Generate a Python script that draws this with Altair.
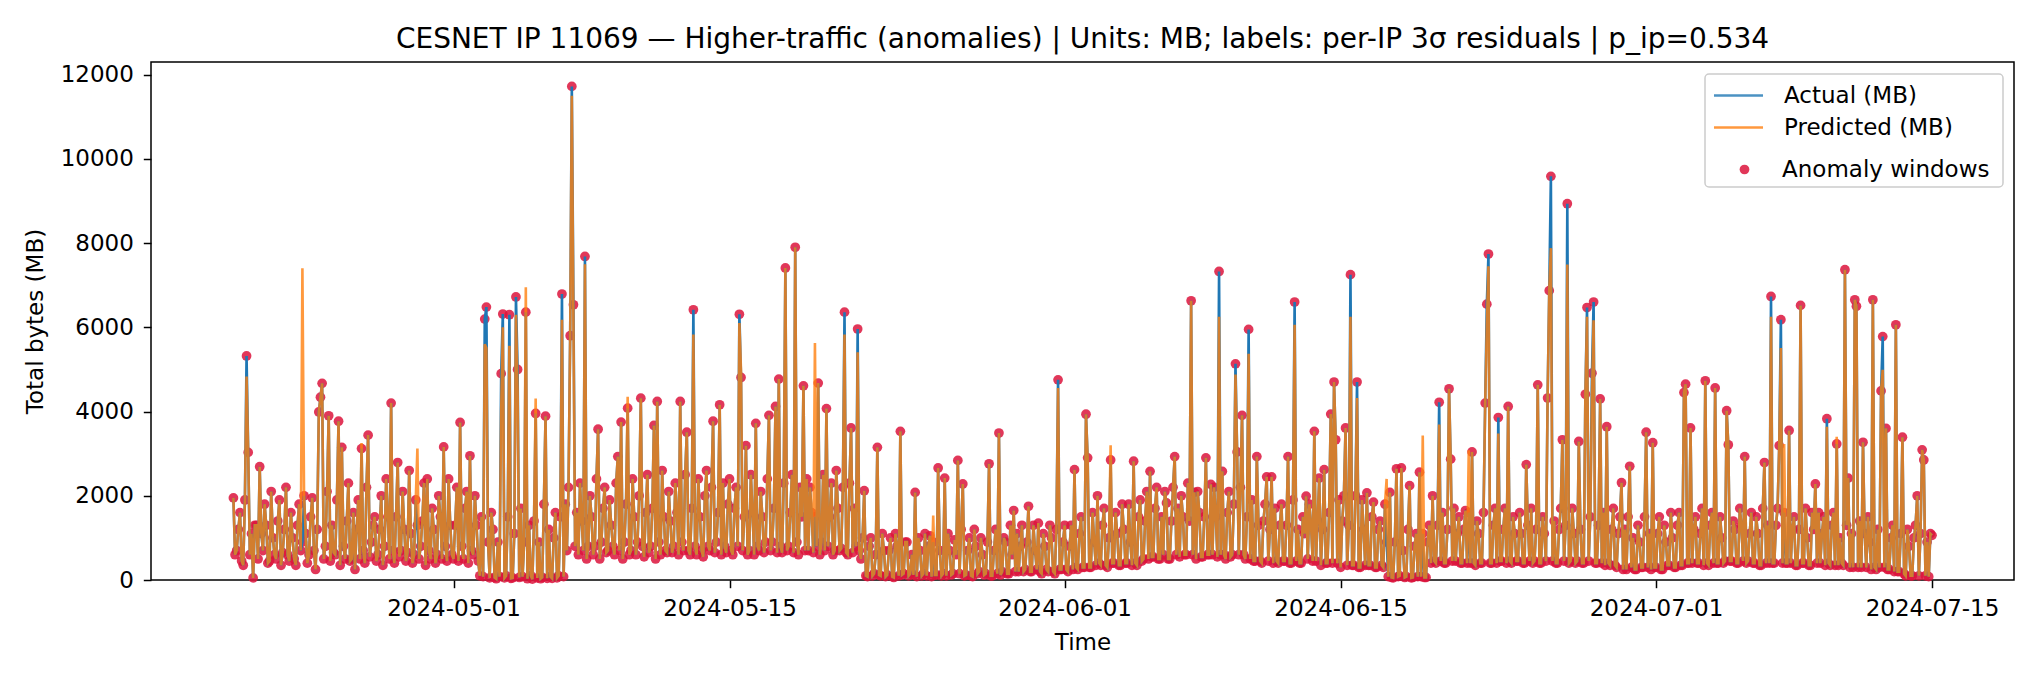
import altair as alt
import pandas as pd

TITLE = ("CESNET IP 11069 \u2014 Higher-traffic (anomalies) | Units: MB; "
         "labels: per-IP 3\u03c3 residuals | p_ip=0.534")
FONT = "DejaVu Sans"

# 2-hour windows (MB); one row per day = 00,02,...,22 h
apr19_tail = [1950, 600]                      # Apr 19 20h, 22h
actual_apr = [                                # Apr 20 .. Apr 30
    [700, 1200, 1600, 450, 350, 1900, 5320, 3030, 600, 1100, 50, 1300],
    [1300, 500, 2690, 1100, 700, 1800, 1300, 400, 450, 2100, 1000, 600],
    [500, 1400, 1900, 350, 650, 1200, 2200, 600, 450, 1600, 1000, 500],
    [350, 1300, 1800, 700, 900, 2000, 1100, 400, 600, 1500, 1950, 700],
    [250, 1200, 3990, 4340, 4670, 500, 800, 2100, 3900, 450, 1300, 650],
    [600, 1900, 3770, 350, 3150, 800, 500, 1400, 2300, 450, 500, 1600],
    [250, 1200, 1900, 500, 3120, 700, 400, 2200, 3440, 550, 900, 1300],
    [1500, 450, 600, 1200, 2000, 350, 800, 2400, 1500, 500, 4200, 700],
    [400, 1500, 2790, 550, 700, 2100, 1200, 450, 650, 2600, 1100, 400],
    [600, 1900, 1300, 500, 800, 1400, 2300, 350, 2400, 700, 500, 1700],
    [1200, 400, 600, 2000, 1500, 500, 3160, 800, 450, 2400, 1300, 600],
]
actual_may = [                                # May 1 .. May 31
    [500, 1300, 2200, 450, 3740, 800, 500, 1700, 2100, 400, 2950, 700],
    [600, 2000, 1300, 450, 100, 1500, 80, 6195, 6480, 900, 50, 1600],
    [1200, 60, 30, 900, 80, 4900, 6315, 50, 100, 1500, 6300, 40],
    [50, 1100, 6720, 5000, 60, 1700, 80, 900, 6360, 30, 1300, 100],
    [20, 1400, 3955, 50, 900, 30, 60, 1800, 3890, 40, 1200, 80],
    [40, 1000, 1600, 50, 100, 1500, 6790, 80, 1800, 700, 2200, 5800],
    [11720, 6535, 800, 1600, 600, 2300, 1400, 700, 7683, 500, 800, 2000],
    [1500, 600, 800, 2400, 3580, 500, 900, 1700, 2200, 650, 700, 1900],
    [1300, 800, 600, 2300, 2930, 700, 3750, 500, 900, 1800, 4080, 600],
    [700, 2400, 1500, 600, 900, 2000, 4318, 800, 550, 1600, 2500, 650],
    [800, 1700, 3670, 500, 4240, 900, 600, 2600, 1500, 700, 650, 2100],
    [1400, 650, 800, 2300, 1600, 600, 4240, 900, 700, 2500, 3510, 700],
    [600, 1700, 6416, 800, 600, 2400, 1500, 700, 550, 2000, 2600, 800],
    [700, 2200, 3770, 650, 900, 1600, 4160, 600, 2300, 800, 650, 1800],
    [2400, 700, 600, 1700, 2200, 800, 6310, 4810, 700, 1500, 3190, 600],
    [700, 2500, 1600, 600, 3720, 800, 700, 2100, 1500, 650, 900, 2400],
    [3910, 700, 900, 1700, 4120, 650, 4770, 800, 650, 2300, 7410, 700],
    [800, 1600, 2500, 650, 7900, 900, 600, 2200, 1500, 4610, 700, 2400],
    [700, 2200, 1600, 650, 1500, 800, 4675, 600, 900, 2500, 700, 4070],
    [800, 1500, 2300, 600, 700, 2600, 1700, 700, 750, 2200, 6360, 650],
    [600, 2300, 3610, 650, 1700, 800, 5960, 700, 500, 1000, 2120, 100],
    [80, 800, 1000, 100, 150, 600, 3150, 120, 100, 1100, 700, 80],
    [120, 700, 1000, 80, 60, 1100, 800, 100, 3530, 120, 150, 900],
    [900, 100, 150, 600, 120, 2080, 80, 1000, 700, 100, 150, 1100],
    [100, 800, 1050, 80, 900, 120, 120, 2660, 700, 100, 150, 2420],
    [100, 1100, 700, 120, 150, 950, 600, 2840, 150, 1200, 2280, 100],
    [120, 700, 1000, 100, 80, 1200, 800, 150, 200, 1000, 600, 120],
    [150, 900, 2760, 100, 100, 700, 1200, 150, 3490, 120, 200, 1000],
    [900, 150, 150, 1300, 600, 1650, 200, 1100, 200, 800, 1300, 200],
    [250, 900, 1750, 200, 200, 1300, 700, 250, 1350, 200, 150, 1100],
    [800, 250, 200, 1300, 1000, 200, 150, 1200, 4753, 250, 250, 900],
]
actual_jun = [                                # Jun 1 .. Jun 30
    [1300, 250, 200, 800, 1300, 250, 2620, 300, 250, 1100, 1500, 300],
    [300, 3937, 2900, 300, 300, 1600, 900, 350, 2000, 400, 350, 1300],
    [1700, 350, 300, 1000, 2850, 400, 400, 1600, 1100, 350, 350, 1800],
    [1200, 400, 400, 1800, 900, 350, 2820, 400, 350, 1500, 1900, 450],
    [500, 1400, 2100, 500, 2580, 550, 550, 1700, 2200, 500, 500, 1500],
    [600, 2100, 1830, 500, 500, 1400, 2200, 2930, 600, 1700, 550, 2000],
    [1500, 600, 600, 2300, 1400, 6630, 600, 2080, 500, 2100, 1600, 550],
    [550, 1500, 2900, 600, 600, 2270, 600, 2200, 1500, 550, 7327, 600],
    [2580, 600, 500, 1600, 2100, 550, 600, 1800, 5133, 3040, 600, 2200],
    [3910, 600, 500, 1500, 5950, 500, 1900, 450, 450, 2930, 1300, 450],
    [400, 1400, 1800, 2450, 450, 1200, 2450, 400, 1700, 450, 400, 1300],
    [1800, 450, 450, 1300, 2930, 400, 400, 1900, 6600, 450, 1200, 400],
    [400, 1500, 1100, 1990, 500, 1800, 1300, 450, 3530, 450, 1400, 2420],
    [350, 1200, 2620, 400, 400, 1600, 3940, 400, 4700, 3330, 400, 1900],
    [300, 1400, 2000, 3610, 350, 1300, 7250, 350, 350, 2000, 4700, 300],
    [300, 1900, 1200, 350, 2070, 350, 350, 1500, 1850, 300, 300, 1200],
    [1400, 350, 300, 1800, 900, 80, 2080, 60, 50, 900, 2640, 80],
    [100, 2660, 700, 60, 80, 1200, 2240, 50, 60, 800, 1100, 80],
    [2560, 80, 1100, 60, 60, 900, 1300, 400, 2000, 450, 400, 1300],
    [4220, 450, 1600, 400, 400, 1200, 4540, 2870, 450, 1700, 450, 1100],
    [1500, 400, 400, 1200, 1650, 400, 1600, 400, 3040, 400, 350, 1400],
    [1100, 400, 400, 1600, 4200, 6550, 7740, 400, 400, 1300, 1700, 400],
    [3857, 450, 450, 1200, 1700, 400, 4120, 450, 400, 1500, 1100, 450],
    [450, 1600, 1100, 400, 400, 2740, 1300, 450, 1700, 400, 450, 1200],
    [4634, 400, 400, 1500, 1100, 450, 4320, 6870, 9585, 450, 1400, 400],
    [400, 1200, 1700, 3330, 450, 1300, 8935, 400, 450, 1700, 1100, 400],
    [450, 3290, 1200, 400, 400, 4410, 6470, 450, 1500, 4910, 6600, 400],
    [400, 1300, 4300, 400, 1600, 350, 3640, 400, 350, 1200, 1700, 350],
    [300, 1100, 1500, 2310, 250, 1200, 250, 1500, 2700, 300, 1000, 250],
    [250, 1300, 900, 300, 300, 1500, 3510, 300, 1100, 250, 3260, 300],
]
actual_jul = [                                # Jul 1 .. Jul 14
    [300, 1100, 1500, 250, 250, 1300, 900, 350, 350, 1600, 1000, 300],
    [300, 1300, 1600, 350, 350, 4450, 4650, 400, 400, 3610, 400, 1200],
    [1500, 400, 400, 1100, 1700, 350, 4730, 400, 350, 1300, 1600, 400],
    [4560, 400, 400, 1500, 1000, 400, 450, 4020, 3210, 450, 450, 1400],
    [1200, 400, 400, 1700, 1300, 450, 2930, 400, 450, 1100, 1600, 400],
    [400, 1500, 1100, 350, 350, 1700, 2790, 400, 1300, 400, 6733, 400],
    [400, 1300, 1700, 3190, 6180, 400, 1600, 400, 400, 3550, 400, 1200],
    [1500, 350, 350, 1200, 6520, 400, 400, 1700, 1000, 350, 350, 1600],
    [1200, 2280, 400, 1600, 400, 1100, 1500, 350, 3830, 400, 350, 1300],
    [1600, 350, 3230, 350, 1000, 400, 350, 7367, 1300, 2420, 300, 1100],
    [300, 6654, 6500, 300, 1400, 300, 3270, 1100, 300, 1500, 900, 250],
    [6654, 300, 250, 1200, 300, 4490, 5780, 300, 3600, 250, 250, 1000],
    [1300, 200, 6060, 200, 200, 1100, 3390, 150, 100, 1200, 800, 100],
    [100, 1000, 1300, 2000, 100, 1100, 3090, 2850, 100, 900, 80, 1100],
]
jul15_head = [1060]                           # Jul 15 00h

# windows where the prediction differs visibly from the actual value
pred_time = [
    "2024-04-20 12:00", "2024-04-23 08:00", "2024-04-26 08:00", "2024-04-29 04:00",
    "2024-05-02 14:00", "2024-05-02 16:00", "2024-05-03 10:00", "2024-05-03 12:00",
    "2024-05-03 20:00", "2024-05-04 04:00", "2024-05-04 06:00", "2024-05-04 16:00",
    "2024-05-05 04:00", "2024-05-06 12:00", "2024-05-07 00:00", "2024-05-07 02:00",
    "2024-05-07 16:00", "2024-05-09 20:00", "2024-05-13 04:00", "2024-05-15 12:00",
    "2024-05-15 14:00", "2024-05-19 08:00", "2024-05-20 20:00", "2024-05-21 12:00",
    "2024-05-25 08:00", "2024-05-31 16:00", "2024-06-03 08:00", "2024-06-08 20:00",
    "2024-06-09 16:00", "2024-06-10 08:00", "2024-06-12 16:00", "2024-06-15 12:00",
    "2024-06-15 20:00", "2024-06-17 08:00", "2024-06-19 04:00", "2024-06-20 00:00",
    "2024-06-21 12:00", "2024-06-22 10:00", "2024-06-22 12:00", "2024-06-23 00:00",
    "2024-06-25 16:00", "2024-06-26 12:00", "2024-06-27 12:00", "2024-06-27 18:00",
    "2024-06-27 20:00", "2024-07-06 20:00", "2024-07-07 08:00", "2024-07-07 12:00",
    "2024-07-09 16:00", "2024-07-10 04:00", "2024-07-12 12:00",
]
pred_mb = [
    4830, 7400, 3250, 3120,
    5600, 5510, 4000, 6000,
    5560, 6300, 4500, 6950,
    4310, 6180, 11500, 6000,
    7500, 4350, 5830, 6100,
    4960, 5630, 5830, 5410,
    1530, 4560, 3200, 6250,
    4880, 5370, 6060, 6250,
    4320, 2400, 3430, 3690,
    3080, 6000, 7450, 3480,
    7880, 7490, 6250, 4360,
    6170, 6250, 5510, 3230,
    3640, 3400, 4990,
]

SERIES = ["Actual (MB)", "Predicted (MB)"]
COLORS = ["#1f77b4", "#ff7f0e"]

# timestamps come from each day's row position
times, actual = [], []
for j, v in enumerate(apr19_tail):
    times.append(pd.Timestamp("2024-04-19 20:00") + pd.Timedelta(hours=2 * j))
    actual.append(v)
for first_day, rows in [("2024-04-20", actual_apr), ("2024-05-01", actual_may),
                        ("2024-06-01", actual_jun), ("2024-07-01", actual_jul)]:
    for d, row in enumerate(rows):
        day = pd.Timestamp(first_day) + pd.Timedelta(days=d)
        for j, v in enumerate(row):
            times.append(day + pd.Timedelta(hours=2 * j))
            actual.append(v)
for j, v in enumerate(jul15_head):
    times.append(pd.Timestamp("2024-07-15 00:00") + pd.Timedelta(hours=2 * j))
    actual.append(v)

predicted = pd.Series(actual, index=pd.DatetimeIndex(times), dtype=float)
for t, v in zip(pred_time, pred_mb):
    ts = pd.Timestamp(t)
    if ts in predicted.index:
        predicted[ts] = v

df_act = pd.DataFrame({"time": times, "mb": actual, "series": SERIES[0]})
df_pred = pd.DataFrame({"time": times, "mb": predicted.values, "series": SERIES[1]})
df_anom = pd.DataFrame({"time": times, "mb": actual, "kind": "Anomaly windows"})

x_enc = alt.X(
    "time:T",
    title="Time",
    scale=alt.Scale(domain=[alt.DateTime(year=2024, month=4, date=15, hours=15, minutes=40),
                            alt.DateTime(year=2024, month=7, date=19, hours=3, minutes=50)]),
    axis=alt.Axis(format="%Y-%m-%d", labelPadding=10, titlePadding=11,
                  values=[alt.DateTime(year=2024, month=m, date=d)
                          for m, d in [(5, 1), (5, 15), (6, 1), (6, 15), (7, 1), (7, 15)]]),
)
y_enc = alt.Y(
    "mb:Q",
    title="Total bytes (MB)",
    scale=alt.Scale(domain=[0, 12300], nice=False),
    axis=alt.Axis(values=list(range(0, 12001, 2000)), format="d",
                  labelPadding=10, titlePadding=13),
)
line_legend = alt.Legend(
    title=None, orient="none", legendX=1568, legendY=14, padding=0, rowPadding=0,
    symbolType="M-1.36,0L1.36,0", symbolSize=1300, symbolStrokeWidth=2.5,
    labelFontSize=23, labelFont=FONT, labelOffset=26, labelColor="black", labelLimit=400,
)
color_enc = alt.Color("series:N", scale=alt.Scale(domain=SERIES, range=COLORS),
                      legend=line_legend)

points = alt.Chart(df_anom).mark_circle(size=95, opacity=0.85).encode(
    x=x_enc, y=y_enc,
    fill=alt.Fill("kind:N", scale=alt.Scale(domain=["Anomaly windows"], range=["#DC143C"]),
                  legend=alt.Legend(title=None, orient="none", legendX=1582, legendY=96,
                                    padding=0, symbolType="circle", symbolSize=95,
                                    labelFontSize=23, labelFont=FONT, labelOffset=26,
                                    labelColor="black", labelLimit=400)),
)
act_line = alt.Chart(df_act).mark_line(strokeWidth=2.6).encode(x=x_enc, y=y_enc, color=color_enc)
pred_line = alt.Chart(df_pred).mark_line(strokeWidth=2.6, opacity=0.8).encode(
    x=x_enc, y=y_enc, color=color_enc)

# legend frame (matplotlib-style box behind the two legends)
frame = alt.Chart(pd.DataFrame({"k": [0]})).mark_rect(
    x=1554, x2=1852, y=12, y2=125,
    fillOpacity=0.8, stroke="#cccccc", strokeWidth=1.5, cornerRadius=4
).encode(fill=alt.value("white"))

chart = alt.layer(points, act_line, pred_line, frame).properties(
    width=1863, height=518,
    title=alt.Title(TITLE, anchor="middle", offset=8),
    autosize=alt.AutoSizeParams(type="none"),
    padding={"left": 143, "top": 54, "right": 10, "bottom": 90},
).configure_view(
    stroke="black", strokeWidth=1.5
).configure_axis(
    labelFont=FONT, labelFontSize=23, labelColor="black",
    titleFont=FONT, titleFontSize=23, titleFontWeight="normal", titleColor="black",
    tickColor="black", tickWidth=1.5, tickSize=7.7, domain=False, grid=False,
).configure_title(
    font=FONT, fontSize=28, fontWeight="normal", color="black"
)

chart.save("out.html", embed_options={"renderer": "svg", "actions": False})
